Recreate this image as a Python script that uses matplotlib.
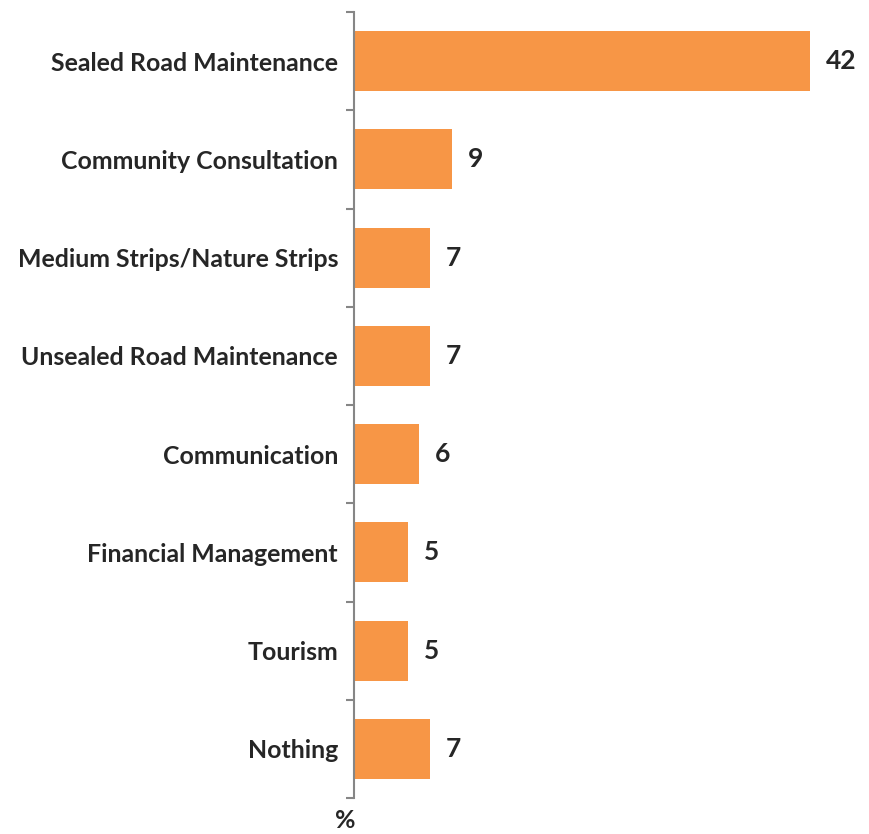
import matplotlib.pyplot as plt
import numpy as np

plt.rcParams['font.family'] = ['Lato', 'DejaVu Sans']

categories = ["Sealed Road Maintenance", "Community Consultation",
              "Medium Strips/Nature Strips", "Unsealed Road Maintenance",
              "Communication", "Financial Management", "Tourism", "Nothing"]
values = [42, 9, 7, 7, 6, 5, 5, 7]

bar_color = "#F79646"
text_color = "#262626"
axis_color = "#868686"

fig = plt.figure(figsize=(8.69, 8.34), dpi=100)
ax = fig.add_axes([354 / 869, 1 - 798 / 834, 510 / 869, 786 / 834])

y = np.arange(len(categories))
ax.barh(y, values, height=0.61, color=bar_color)
ax.set_ylim(len(categories) - 0.5, -0.5)
ax.set_xlim(0, 47)

# category labels on the centres, tick marks on the band edges
ax.set_yticks(y)
ax.set_yticklabels(categories, fontsize=17.9, fontweight="bold", color=text_color)
ax.tick_params(axis="y", which="major", length=0, pad=11.5)
ax.set_yticks(np.arange(len(categories) + 1) - 0.5, minor=True)
ax.tick_params(axis="y", which="minor", length=6, width=1.5, color=axis_color)
ax.set_xticks([])

for side in ("top", "right", "bottom"):
    ax.spines[side].set_visible(False)
ax.spines["left"].set_color(axis_color)
ax.spines["left"].set_linewidth(1.5)

for yi, v in zip(y, values):
    ax.annotate(str(v), (v, yi), xytext=(11.5, 0), textcoords="offset points",
                va="center", ha="left", fontsize=19, fontweight="bold",
                color=text_color)

fig.text(345 / 869, 1 - 832 / 834, "%", ha="center", va="bottom",
         fontsize=18, fontweight="bold", color=text_color)

fig.savefig("out.png", dpi=100)
